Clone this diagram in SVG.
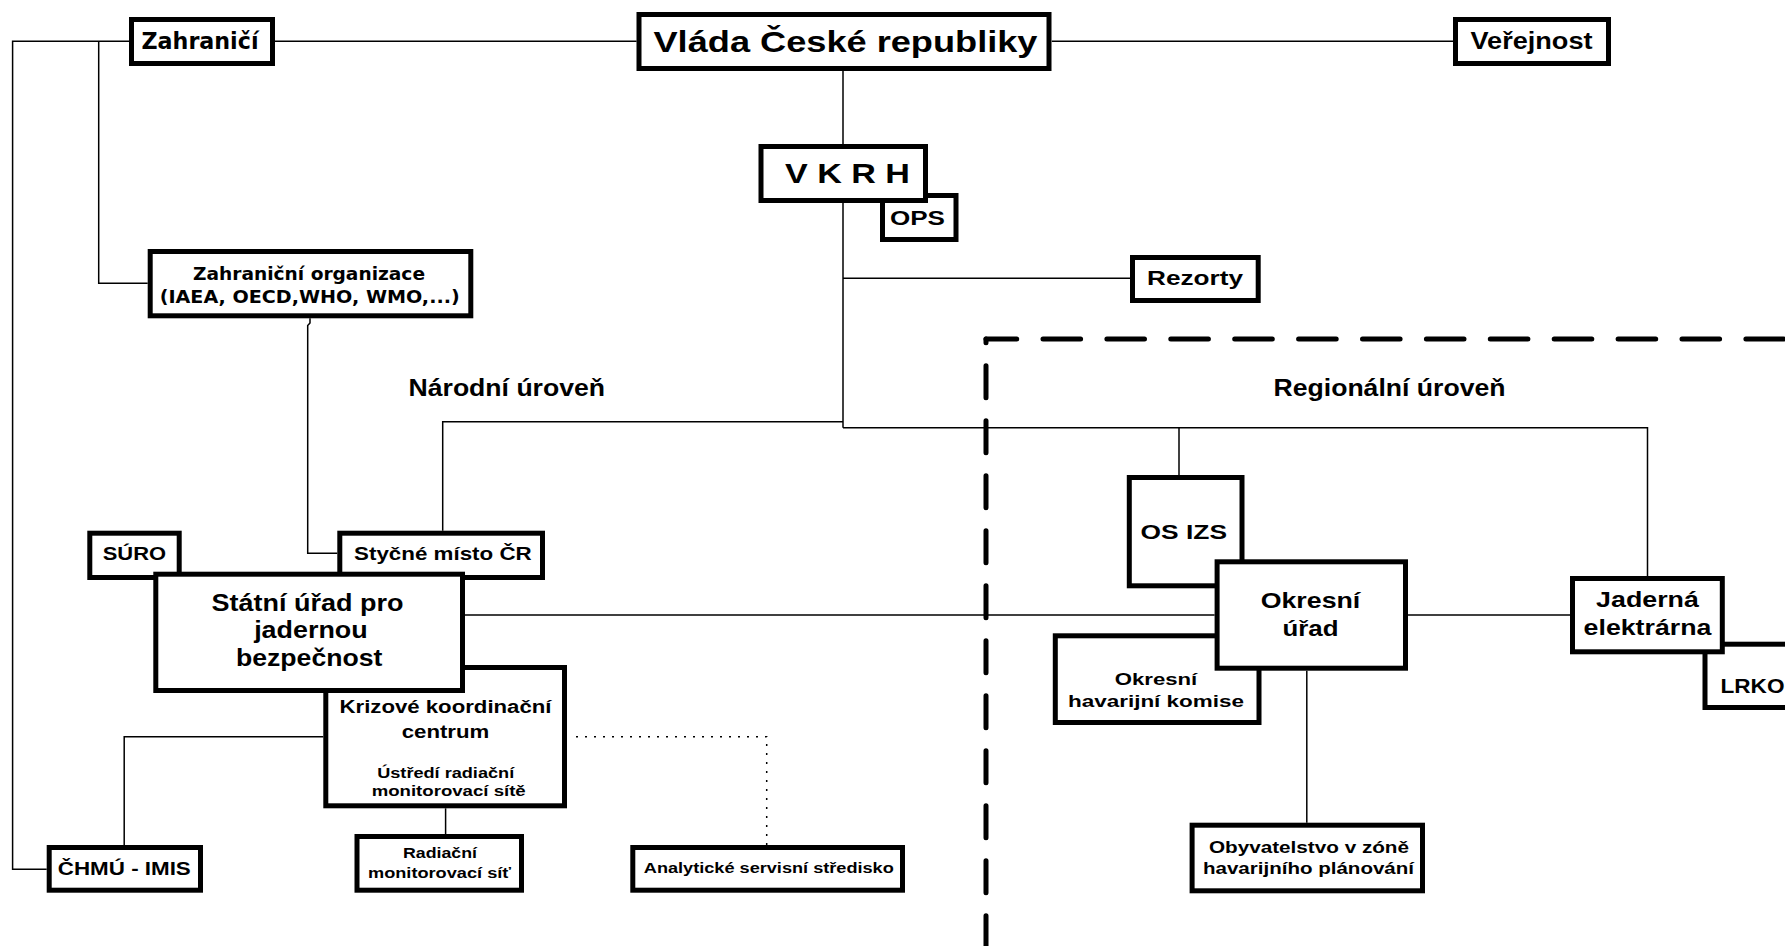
<svg xmlns="http://www.w3.org/2000/svg" width="1785" height="946" viewBox="0 0 1785 946">
<style>
.box{fill:#fff;stroke:#000;stroke-width:5}
.t{font-family:"Liberation Sans",Arial,sans-serif;font-weight:bold;text-anchor:middle;fill:#000}
.v{font-family:"DejaVu Sans",Verdana,sans-serif;font-weight:bold;text-anchor:middle;fill:#000}
.c{fill:none;stroke:#000;stroke-width:1.5}
</style>
<rect width="1785" height="946" fill="#fff"/>
<g id="region-boundary" fill="none" stroke="#000" stroke-width="5" stroke-linecap="round">
<path d="M986 339 V946" stroke-dasharray="32 23" stroke-dashoffset="28.2"/>
<path d="M986 339 H1795" stroke-dasharray="37.6 26.3" stroke-dashoffset="6.9"/>
</g>
<g id="connectors">
<path class="c" d="M275 41.3 H636.6"/>
<path class="c" d="M1051.8 41.3 H1453"/>
<path class="c" d="M129 41.3 H12.6 V869.3 H46.7"/>
<path class="c" d="M98.7 41.3 V283.3 H147.7"/>
<path class="c" d="M843 71 V144"/>
<path class="c" d="M843 203 V427.7"/>
<path class="c" d="M843 278.3 H1130"/>
<path class="c" d="M843 421.7 H442.7 V530.7"/>
<path class="c" d="M843 427.7 H1647.5 V576"/>
<path class="c" d="M1179 427.7 V475"/>
<path class="c" d="M310 318.3 V323 L307.7 325.5 V553.3 H337.3"/>
<path class="c" d="M465 615 H1214.6"/>
<path class="c" d="M1408 615 H1570"/>
<path class="c" d="M1306.8 670.7 V822.7"/>
<path class="c" d="M323.3 736.7 H124.2 V845" stroke-width="2"/>
<path class="c" d="M445.6 808.3 V834"/>
<path class="c" d="M576 736.7 H766.7 V845" stroke-width="2" stroke-dasharray="2 7"/>
</g>
<g id="zahranici">
<rect class="box" x="131.5" y="19.5" width="141" height="44"/>
<text class="v" x="200" y="49.3" font-size="22.5" textLength="117" lengthAdjust="spacingAndGlyphs">Zahraničí</text>
</g>
<g id="vlada">
<rect class="box" x="639" y="14.5" width="410" height="54"/>
<text class="t" x="845.5" y="52" font-size="30" textLength="384" lengthAdjust="spacingAndGlyphs">Vláda České republiky</text>
</g>
<g id="verejnost">
<rect class="box" x="1455.5" y="19.5" width="153" height="44"/>
<text class="t" x="1531.5" y="49" font-size="23.5" textLength="122" lengthAdjust="spacingAndGlyphs">Veřejnost</text>
</g>
<g id="ops">
<rect class="box" x="882.5" y="195.5" width="73.5" height="44"/>
<text class="t" x="917.5" y="225" font-size="20" textLength="55" lengthAdjust="spacingAndGlyphs">OPS</text>
</g>
<g id="vkrh">
<rect class="box" x="761" y="146.5" width="164.5" height="54"/>
<text class="t" x="847.5" y="183" font-size="28" textLength="125" lengthAdjust="spacingAndGlyphs">V K R H</text>
</g>
<g id="rezorty">
<rect class="box" x="1132.5" y="257.5" width="125.7" height="43"/>
<text class="t" x="1195" y="285" font-size="21" textLength="96" lengthAdjust="spacingAndGlyphs">Rezorty</text>
</g>
<g id="zahranicni-organizace">
<rect class="box" x="150.2" y="251.5" width="320.6" height="64.3"/>
<text class="v" x="309" y="280" font-size="18.5" textLength="232" lengthAdjust="spacingAndGlyphs">Zahraniční organizace</text>
<text class="v" x="309.7" y="303.3" font-size="18.5" textLength="300" lengthAdjust="spacingAndGlyphs">(IAEA, OECD,WHO, WMO,...)</text>
</g>
<g id="label-narodni">
<text class="t" x="506.8" y="396" font-size="23.5" textLength="196.5" lengthAdjust="spacingAndGlyphs">Národní úroveň</text>
</g>
<g id="label-regionalni">
<text class="t" x="1389.5" y="396" font-size="23.5" textLength="232" lengthAdjust="spacingAndGlyphs">Regionální úroveň</text>
</g>
<g id="suro">
<rect class="box" x="89.8" y="533.2" width="89.4" height="44.3"/>
<text class="t" x="134.4" y="560" font-size="18.5" textLength="63.3" lengthAdjust="spacingAndGlyphs">SÚRO</text>
</g>
<g id="stycne-misto">
<rect class="box" x="339.8" y="533.2" width="202.7" height="44.3"/>
<text class="t" x="442.9" y="560" font-size="18.5" textLength="177.7" lengthAdjust="spacingAndGlyphs">Styčné místo ČR</text>
</g>
<g id="krizove-centrum">
<rect class="box" x="325.8" y="667.5" width="238.7" height="138.3"/>
<text class="t" x="445.5" y="713.3" font-size="17.5" textLength="212" lengthAdjust="spacingAndGlyphs">Krizové koordinační</text>
<text class="t" x="445.5" y="738.3" font-size="17.5" textLength="87.6" lengthAdjust="spacingAndGlyphs">centrum</text>
<text class="t" x="445.7" y="778.3" font-size="14" textLength="137" lengthAdjust="spacingAndGlyphs">Ústředí radiační</text>
<text class="t" x="448.7" y="795.7" font-size="14" textLength="154" lengthAdjust="spacingAndGlyphs">monitorovací sítě</text>
</g>
<g id="sujb">
<rect class="box" x="155.8" y="574.2" width="306.7" height="116.3"/>
<text class="t" x="307.4" y="611" font-size="23.5" textLength="192" lengthAdjust="spacingAndGlyphs">Státní úřad pro</text>
<text class="t" x="310.9" y="638.3" font-size="23.5" textLength="113.5" lengthAdjust="spacingAndGlyphs">jadernou</text>
<text class="t" x="309.2" y="665.7" font-size="23.5" textLength="146.4" lengthAdjust="spacingAndGlyphs">bezpečnost</text>
</g>
<g id="radiacni-sit">
<rect class="box" x="357" y="836.5" width="164.5" height="53.7"/>
<text class="t" x="440" y="858.3" font-size="14" textLength="74" lengthAdjust="spacingAndGlyphs">Radiační</text>
<text class="t" x="439.5" y="877.7" font-size="14" textLength="143" lengthAdjust="spacingAndGlyphs">monitorovací síť</text>
</g>
<g id="chmu-imis">
<rect class="box" x="49.2" y="847.5" width="151.3" height="42.7"/>
<text class="t" x="124.3" y="875" font-size="19" textLength="133" lengthAdjust="spacingAndGlyphs">ČHMÚ - IMIS</text>
</g>
<g id="analyticke-stredisko">
<rect class="box" x="632.8" y="847.5" width="269.7" height="42.7"/>
<text class="t" x="768.8" y="873.3" font-size="14" textLength="250" lengthAdjust="spacingAndGlyphs">Analytické servisní středisko</text>
</g>
<g id="os-izs">
<rect class="box" x="1129.3" y="477.5" width="112.7" height="108.3"/>
<text class="t" x="1183.8" y="539" font-size="20" textLength="86.4" lengthAdjust="spacingAndGlyphs">OS IZS</text>
</g>
<g id="okresni-havarijni-komise">
<rect class="box" x="1055.3" y="635.8" width="203.7" height="86.7"/>
<text class="t" x="1156" y="685" font-size="16.5" textLength="82.5" lengthAdjust="spacingAndGlyphs">Okresní</text>
<text class="t" x="1156" y="706.7" font-size="16.5" textLength="176" lengthAdjust="spacingAndGlyphs">havarijní komise</text>
</g>
<g id="okresni-urad">
<rect class="box" x="1217.1" y="561.8" width="188.4" height="106.4"/>
<text class="t" x="1310.5" y="608.3" font-size="22" textLength="99.6" lengthAdjust="spacingAndGlyphs">Okresní</text>
<text class="t" x="1310.5" y="636" font-size="22" textLength="56" lengthAdjust="spacingAndGlyphs">úřad</text>
</g>
<g id="lrko">
<rect class="box" x="1705" y="644.2" width="100" height="63.3"/>
<text class="t" x="1720.5" y="693.3" font-size="20" text-anchor="start" style="text-anchor:start" textLength="64" lengthAdjust="spacingAndGlyphs">LRKO</text>
</g>
<g id="jaderna-elektrarna">
<rect class="box" x="1572.5" y="578.5" width="149.8" height="73.3"/>
<text class="t" x="1647.5" y="607.3" font-size="22" textLength="102.8" lengthAdjust="spacingAndGlyphs">Jaderná</text>
<text class="t" x="1647.5" y="635" font-size="22" textLength="127.8" lengthAdjust="spacingAndGlyphs">elektrárna</text>
</g>
<g id="obyvatelstvo">
<rect class="box" x="1192.1" y="825.2" width="230.4" height="65.6"/>
<text class="t" x="1309" y="852.7" font-size="16" textLength="200" lengthAdjust="spacingAndGlyphs">Obyvatelstvo v zóně</text>
<text class="t" x="1308.5" y="874" font-size="16" textLength="211" lengthAdjust="spacingAndGlyphs">havarijního plánování</text>
</g>
</svg>
